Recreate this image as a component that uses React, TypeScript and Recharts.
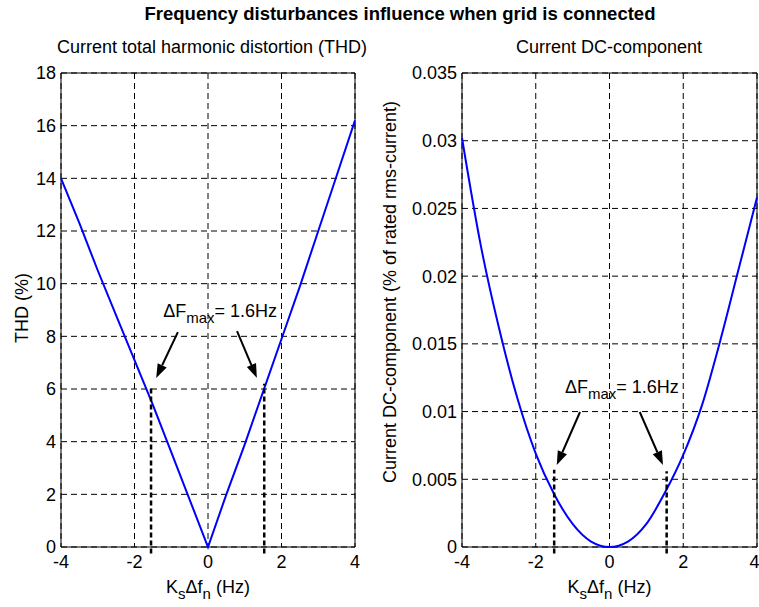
import {
  LineChart,
  Line,
  XAxis,
  YAxis,
  CartesianGrid,
  ReferenceLine,
  ReferenceArea,
  ReferenceDot,
  Label,
} from "recharts";

const FONT = "'Liberation Sans', Arial, sans-serif";
const FS = 18;
const SUB = 15;

// K_s * delta f_n (Hz)
const FREQ = [-4, -3.5, -3, -2.5, -2, -1.5, -1, -0.5, 0, 0.5, 1, 1.5, 2, 2.5, 3, 3.5, 4];
// current THD (%)
const THD = [14.0, 12.3, 10.5, 8.8, 7.1, 5.4, 3.6, 1.8, 0, 2.0, 3.9, 5.9, 7.9, 9.9, 12.0, 14.1, 16.2];
// current DC component (% of rated rms current)
const DC = [0.0302, 0.0224, 0.0162, 0.011, 0.0069, 0.0039, 0.0017, 0.0004, 0, 0.0004, 0.0017, 0.004, 0.0068, 0.0104, 0.0152, 0.0205, 0.0258];

const X_TICKS = [-4, -2, 0, 2, 4];
const THD_TICKS = [0, 2, 4, 6, 8, 10, 12, 14, 16, 18];
const DC_TICKS = [0, 0.005, 0.01, 0.015, 0.02, 0.025, 0.03, 0.035];

// dashed markers at +-dF_max: [x, top]
const THD_MARKERS = [[-1.55, 6.1], [1.53, 6.2]];
const DC_MARKERS = [[-1.5, 0.0057], [1.55, 0.0056]];

// arrows: [fromX, fromY, toX, toY]
const THD_ARROWS = [[-0.82, 8.16, -1.41, 6.42], [0.79, 8.2, 1.33, 6.42]];
const DC_ARROWS = [[-0.8, 0.00997, -1.43, 0.00605], [0.82, 0.00997, 1.45, 0.00605]];

// annotation anchor (left edge, baseline)
const THD_NOTE = [-1.22, 8.73];
const DC_NOTE = [-1.21, 0.0114];

const thdData = FREQ.map((f, i) => ({ f, v: THD[i] }));
const dcData = FREQ.map((f, i) => ({ f, v: DC[i] }));

const Arrow = (p: any) => {
  const { x1, y1, x2, y2 } = p;
  const dx = x2 - x1;
  const dy = y2 - y1;
  const len = Math.sqrt(dx * dx + dy * dy) || 1;
  const ux = dx / len;
  const uy = dy / len;
  const head = 14;
  const half = 5;
  const bx = x2 - ux * head;
  const by = y2 - uy * head;
  return (
    <g>
      <line x1={x1} y1={y1} x2={bx} y2={by} stroke="#000" strokeWidth={2} />
      <polygon
        points={`${x2},${y2} ${bx - uy * half},${by + ux * half} ${bx + uy * half},${by - ux * half}`}
        fill="#000"
      />
    </g>
  );
};

const Note = (p: any) => (
  <text x={p.cx} y={p.cy} fontFamily={FONT} fontSize={FS} fill="#000">
    ΔF
    <tspan dy={6} fontSize={SUB}>max</tspan>
    <tspan dy={-6}>= 1.6Hz</tspan>
  </text>
);

const xLabel = (p: any) => {
  const vb = p.viewBox;
  const cx = vb.x + vb.width / 2;
  return (
    <text x={cx} y={593} textAnchor="middle" fontFamily={FONT} fontSize={FS} fill="#000">
      K
      <tspan dy={6} fontSize={SUB}>s</tspan>
      <tspan dy={-6}>Δf</tspan>
      <tspan dy={6} fontSize={SUB}>n</tspan>
      <tspan dy={-6}> (Hz)</tspan>
    </text>
  );
};

type PanelProps = {
  data: { f: number; v: number }[];
  yTicks: number[];
  yMax: number;
  markers: number[][];
  arrows: number[][];
  note: number[];
  yLabel: string;
  yLabelX: number;
  yLabelY: number;
  yWidth: number;
  width: number;
  right: number;
  curve: "linear" | "monotone";
};

function Panel(props: PanelProps) {
  const { data, yTicks, yMax, markers, arrows, note } = props;
  const below = -yMax * 0.0135;
  return (
    <LineChart
      width={props.width}
      height={607}
      data={data}
      margin={{ top: 73, right: props.right, bottom: 0, left: 0 }}
    >
      <CartesianGrid stroke="#000" strokeDasharray="6 4" strokeWidth={1} />
      <XAxis
        dataKey="f"
        type="number"
        domain={[-4, 4]}
        ticks={X_TICKS}
        height={60}
        axisLine={false}
        tickLine={false}
        tickSize={0}
        tickMargin={8}
        tick={{ fill: "#000", fontSize: FS, fontFamily: FONT }}
        label={<Label content={xLabel} />}
      />
      <YAxis
        type="number"
        domain={[0, yMax]}
        ticks={yTicks}
        width={props.yWidth}
        axisLine={false}
        tickLine={false}
        tickSize={0}
        tickMargin={5}
        tick={{ fill: "#000", fontSize: FS, fontFamily: FONT }}
        label={
          <Label
            content={() => (
              <text
                x={props.yLabelX}
                y={props.yLabelY}
                transform={`rotate(-90 ${props.yLabelX} ${props.yLabelY})`}
                textAnchor="middle"
                dominantBaseline="central"
                fontFamily={FONT}
                fontSize={FS}
                fill="#000"
              >
                {props.yLabel}
              </text>
            )}
          />
        }
      />
      <ReferenceArea x1={-4} x2={4} y1={0} y2={yMax} fill="none" stroke="#000" strokeWidth={1} ifOverflow="visible" />
      <Line
        dataKey="v"
        type={props.curve}
        stroke="#0000ff"
        strokeWidth={2}
        dot={false}
        isAnimationActive={false}
      />
      {markers.map((m, i) => (
        <ReferenceLine
          key={"m" + i}
          segment={[{ x: m[0], y: below }, { x: m[0], y: m[1] }]}
          stroke="#000"
          strokeWidth={2.5}
          strokeDasharray="5 3"
          ifOverflow="visible"
        />
      ))}
      {arrows.map((a, i) => (
        <ReferenceLine
          key={"a" + i}
          segment={[{ x: a[0], y: a[1] }, { x: a[2], y: a[3] }]}
          shape={Arrow}
          ifOverflow="visible"
        />
      ))}
      <ReferenceDot x={note[0]} y={note[1]} r={0} shape={Note} ifOverflow="visible" />
    </LineChart>
  );
}

export default function App() {
  return (
    <div
      style={{
        position: "absolute",
        left: 0,
        top: 0,
        width: 759,
        height: 607,
        background: "#fff",
        fontFamily: FONT,
      }}
    >
      <div style={{ position: "absolute", left: 0, top: 0 }}>
        <Panel
          data={thdData}
          yTicks={THD_TICKS}
          yMax={18}
          markers={THD_MARKERS}
          arrows={THD_ARROWS}
          note={THD_NOTE}
          yLabel="THD (%)"
          yLabelX={22}
          yLabelY={308}
          yWidth={61}
          width={380}
          right={25}
          curve="linear"
        />
      </div>
      <div style={{ position: "absolute", left: 380, top: 0 }}>
        <Panel
          data={dcData}
          yTicks={DC_TICKS}
          yMax={0.035}
          markers={DC_MARKERS}
          arrows={DC_ARROWS}
          note={DC_NOTE}
          yLabel="Current DC-component (% of rated rms-current)"
          yLabelX={10}
          yLabelY={292}
          yWidth={82}
          width={379}
          right={2}
          curve="monotone"
        />
      </div>
      <svg
        width={759}
        height={80}
        style={{ position: "absolute", left: 0, top: 0, pointerEvents: "none" }}
      >
        <text x={400} y={20} textAnchor="middle" fontFamily={FONT} fontSize={18.5} fontWeight="bold" fill="#000">
          Frequency disturbances influence when grid is connected
        </text>
        <text x={212} y={53} textAnchor="middle" fontFamily={FONT} fontSize={FS} fill="#000">
          Current total harmonic distortion (THD)
        </text>
        <text x={609} y={53} textAnchor="middle" fontFamily={FONT} fontSize={FS} fill="#000">
          Current DC-component
        </text>
      </svg>
    </div>
  );
}
